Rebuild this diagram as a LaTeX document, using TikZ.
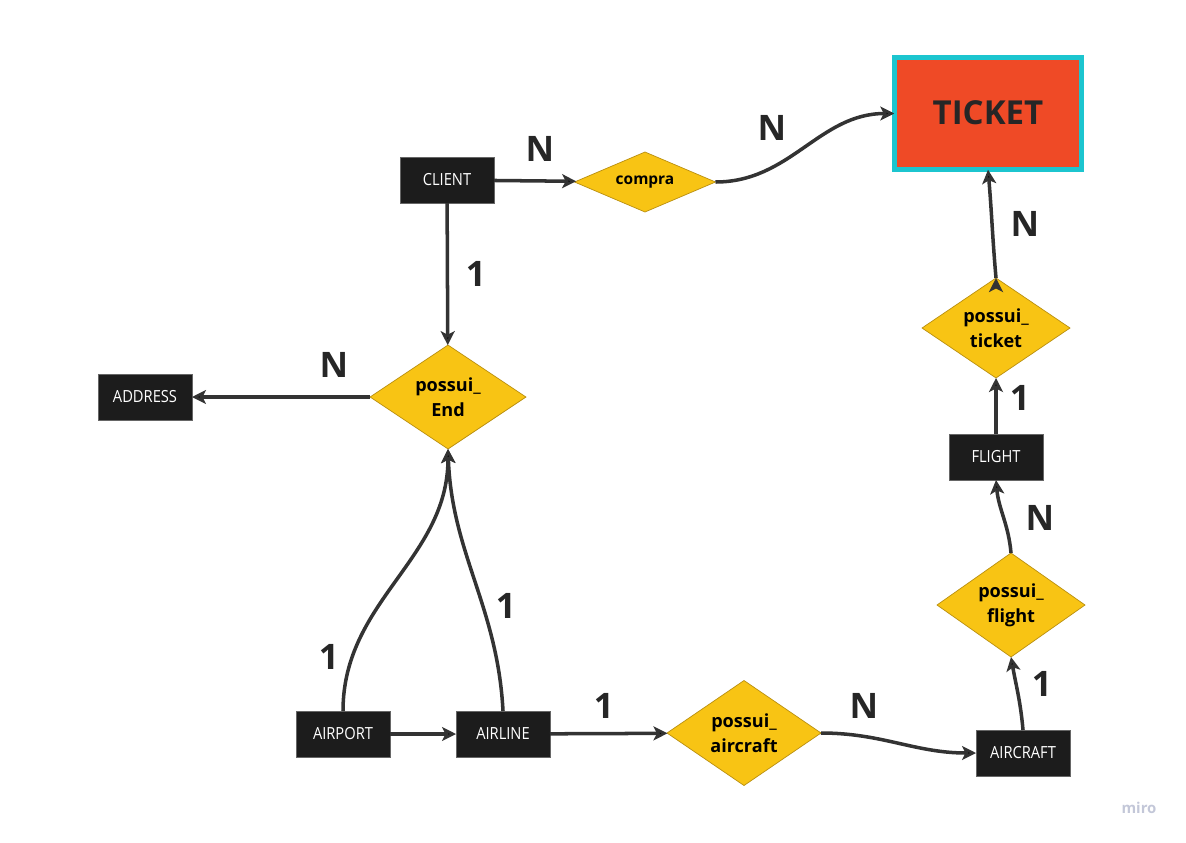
\documentclass[tikz,border=0pt]{standalone}
\usepackage{fontspec}
\setmainfont{Open Sans}
\newfontfamily\boxfont[FakeStretch=0.88]{Open Sans}
\usepackage{xcolor}
\usetikzlibrary{arrows.meta,shapes.geometric}

\definecolor{boxfill}{HTML}{1C1C1C}
\definecolor{relfill}{HTML}{F8C414}
\definecolor{reldraw}{HTML}{B98F10}
\definecolor{ticketfill}{HTML}{EF4A26}
\definecolor{ticketdraw}{HTML}{1CC5CF}
\definecolor{linkcol}{HTML}{333333}
\definecolor{mirocol}{HTML}{C3C7D8}

\begin{document}
\begin{tikzpicture}[x=0.02cm,y=-0.02cm,
  link/.style={draw=linkcol,line width=2pt,-{Stealth[length=0.28cm,width=0.28cm,inset=0.07cm]}}]

    \tikzstyle{entity} = [rectangle,fill=boxfill,draw=black!60,line width=0.4pt,text=white,minimum width=1.88cm,minimum height=0.92cm,inner sep=0pt,outer sep=0pt,font=\boxfont\fontsize{9.5}{11}\selectfont]
    \tikzstyle{relation} = [diamond,fill=relfill,draw=reldraw,line width=0.4pt,inner sep=0pt,outer sep=0pt,align=center,aspect=1.5,font=\fontsize{10.3}{14.2}\selectfont\bfseries]
    \tikzstyle{card} = [font=\fontsize{20}{22}\selectfont\bfseries,text=black!85,inner sep=0pt]

  \useasboundingbox (0,0) rectangle (1186,842);

  \node[rectangle,fill=ticketfill,draw=ticketdraw,line width=0.09cm,minimum width=3.75cm,minimum height=2.25cm,outer sep=0pt,font=\fontsize{18.8}{20}\selectfont\bfseries,text=black!85] (ticket) at (988,113.5) {\raisebox{1.5pt}{TICKET}};

  \node[entity] (client) at (447,180) {CLIENT};
  \node[relation,aspect=2.35,minimum width=2.82cm,minimum height=1.2cm,font=\fontsize{8.8}{10}\selectfont\bfseries] (compra) at (645,182) {compra};
  \node[relation,minimum width=3.12cm,minimum height=2.08cm] (possuiEnd) at (448,397) {possui\_\\End};
  \node[entity] (address) at (145,397) {ADDRESS};
  \node[entity] (airport) at (343,734) {AIRPORT};
  \node[entity] (airline) at (503,734) {AIRLINE};
  \node[relation,minimum width=3.08cm,minimum height=2.1cm] (possuiAircraft) at (744,733) {possui\_\\aircraft};
  \node[entity] (aircraft) at (1023,753) {AIRCRAFT};
  \node[relation,minimum width=2.96cm,minimum height=2.08cm] (possuiFlight) at (1011,605) {possui\_\\flight};
  \node[entity] (flight) at (996,457) {FLIGHT};
  \node[relation,minimum width=2.96cm,minimum height=2.0cm] (possuiTicket) at (996,328) {possui\_\\ticket};

  \node[card] (cardClientCompra) at (540,149) {N};
  \node[card] (cardCompraTicket) at (772,128) {N};
  \node[card] (cardTicketPossui) at (1025,224) {N};
  \node[card] (cardClientEnd) at (476,274) {1};
  \node[card] (cardEndAddress) at (334,365) {N};
  \node[card] (cardFlightTicket) at (1020,398) {1};
  \node[card] (cardFlightPossui) at (1040,518) {N};
  \node[card] (cardAirlineEnd) at (506,606) {1};
  \node[card] (cardAirportEnd) at (329,657) {1};
  \node[card] (cardAirlineAircraft) at (604,706) {1};
  \node[card] (cardAircraftPossui) at (864,706) {N};
  \node[card] (cardAircraftFlight) at (1042,684) {1};

  \node[text=mirocol,font=\fontsize{8.5}{10}\selectfont\bfseries] (miro) at (1139,808) {miro};

  \path[link]
    (client) edge (compra)
    (compra.east) edge [out=0,in=180] (ticket.west)
    (client) edge (possuiEnd)
    (possuiEnd) edge (address)
    (airport.north) edge [out=90,in=-90] (possuiEnd.south)
    (airline.north) edge [out=93,in=-88] (possuiEnd.south)
    (airport) edge (airline)
    (airline) edge (possuiAircraft)
    (possuiAircraft.east) edge [out=0,in=180] (aircraft.west)
    (aircraft.north) edge [out=95,in=-80] (possuiFlight.south)
    (possuiFlight.north) edge [out=95,in=-85] (flight.south)
    (flight) edge (possuiTicket)
    (possuiTicket.north) edge [out=95,in=-85] (ticket.south)
    ;

\end{tikzpicture}
\end{document}
